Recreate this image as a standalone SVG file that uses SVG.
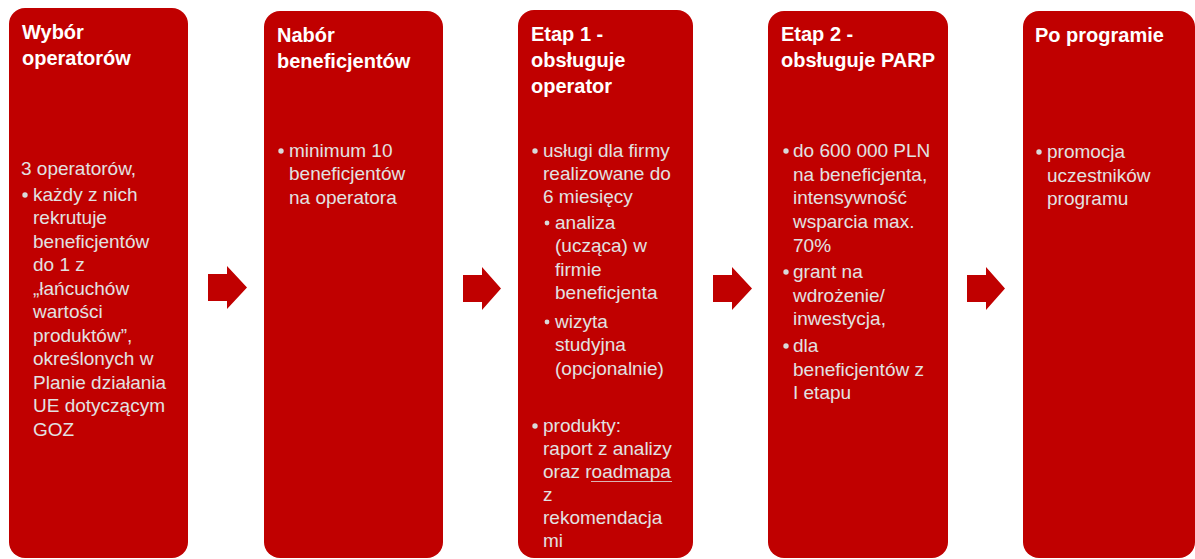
<svg xmlns="http://www.w3.org/2000/svg" width="1195" height="559" viewBox="0 0 1195 559">
<style>
.box{fill:#C00000}
.title{font-family:"Liberation Sans",Arial,sans-serif;font-weight:bold;font-size:20px;fill:#FFFFFF}
.body{font-family:"Liberation Sans",Arial,sans-serif;font-size:19px;fill:#E2E2E2}
.dot{fill:#D9D9D9}
.arrow{fill:#C00000}
.ul{stroke:#E2E2E2;stroke-width:0.8}
</style>
<rect width="1195" height="559" fill="#FFFFFF"/>
<g id="node-wybor">
<rect class="box" x="9" y="8" width="179" height="550" rx="16"/>
<text class="title" x="22" y="39">Wybór</text>
<text class="title" x="22" y="65">operatorów</text>
<text class="body" x="21" y="175">3 operatorów,</text>
<circle class="dot" cx="25" cy="195" r="2.7"/>
<text class="body" x="33"><tspan x="33" y="201">każdy z nich</tspan><tspan x="33" y="224">rekrutuje</tspan><tspan x="33" y="248">beneficjentów</tspan><tspan x="33" y="271">do 1 z</tspan><tspan x="33" y="295">„łańcuchów</tspan><tspan x="33" y="318">wartości</tspan><tspan x="33" y="342">produktów”,</tspan><tspan x="33" y="365">określonych w</tspan><tspan x="33" y="389">Planie działania</tspan><tspan x="33" y="412">UE dotyczącym</tspan><tspan x="33" y="436">GOZ</tspan></text>
</g>
<g id="node-nabor">
<rect class="box" x="264" y="11" width="179" height="547" rx="16"/>
<text class="title" x="277" y="42">Nabór</text>
<text class="title" x="277" y="68">beneficjentów</text>
<circle class="dot" cx="281" cy="151" r="2.7"/>
<text class="body"><tspan x="289" y="157">minimum 10</tspan><tspan x="289" y="180">beneficjentów</tspan><tspan x="289" y="204">na operatora</tspan></text>
</g>
<g id="node-etap1">
<rect class="box" x="518" y="10" width="175" height="548" rx="16"/>
<text class="title" x="531" y="41">Etap 1 -</text>
<text class="title" x="531" y="67">obsługuje</text>
<text class="title" x="531" y="93">operator</text>
<circle class="dot" cx="535" cy="151" r="2.7"/>
<text class="body"><tspan x="543" y="157">usługi dla firmy</tspan><tspan x="543" y="180">realizowane do</tspan><tspan x="543" y="203">6 miesięcy</tspan></text>
<circle class="dot" cx="547" cy="223" r="2.4"/>
<text class="body"><tspan x="555" y="229">analiza</tspan><tspan x="555" y="252">(ucząca) w</tspan><tspan x="555" y="276">firmie</tspan><tspan x="555" y="299">beneficjenta</tspan></text>
<circle class="dot" cx="547" cy="322" r="2.4"/>
<text class="body"><tspan x="555" y="328">wizyta</tspan><tspan x="555" y="351">studyjna</tspan><tspan x="555" y="375">(opcjonalnie)</tspan></text>
<circle class="dot" cx="535" cy="426" r="2.7"/>
<text class="body"><tspan x="543" y="432">produkty:</tspan><tspan x="543" y="455">raport z analizy</tspan><tspan x="543" y="478">oraz roadmapa</tspan><tspan x="543" y="501">z</tspan><tspan x="543" y="524">rekomendacja</tspan><tspan x="543" y="547">mi</tspan></text>
<line class="ul" x1="591" y1="481.5" x2="672" y2="481.5"/>
</g>
<g id="node-etap2">
<rect class="box" x="768" y="11" width="180" height="547" rx="16"/>
<text class="title" x="781" y="41">Etap 2 -</text>
<text class="title" x="781" y="67">obsługuje PARP</text>
<circle class="dot" cx="786" cy="151" r="2.7"/>
<text class="body"><tspan x="793" y="157">do 600 000 PLN</tspan><tspan x="793" y="181">na beneficjenta,</tspan><tspan x="793" y="204">intensywność</tspan><tspan x="793" y="228">wsparcia max.</tspan><tspan x="793" y="252">70%</tspan></text>
<circle class="dot" cx="786" cy="272" r="2.7"/>
<text class="body"><tspan x="793" y="278">grant na</tspan><tspan x="793" y="302">wdrożenie/</tspan><tspan x="793" y="325">inwestycja,</tspan></text>
<circle class="dot" cx="786" cy="346" r="2.7"/>
<text class="body"><tspan x="793" y="352">dla</tspan><tspan x="793" y="376">beneficjentów z</tspan><tspan x="793" y="399">I etapu</tspan></text>
</g>
<g id="node-po">
<rect class="box" x="1023" y="11" width="172" height="547" rx="16"/>
<text class="title" x="1035" y="42">Po programie</text>
<circle class="dot" cx="1039" cy="152" r="2.7"/>
<text class="body"><tspan x="1047" y="158">promocja</tspan><tspan x="1047" y="182">uczestników</tspan><tspan x="1047" y="205">programu</tspan></text>
</g>
<g id="connectors">
<polygon class="arrow" points="208,274 227,274 227,266 247,287.5 227,309 227,301 208,301"/>
<polygon class="arrow" points="463,275 482,275 482,267 501,288.5 482,310 482,302 463,302"/>
<polygon class="arrow" points="713,275 732,275 732,267 752,288.5 732,310 732,302 713,302"/>
<polygon class="arrow" points="967,275 986,275 986,267 1005,288.5 986,310 986,302 967,302"/>
</g>
</svg>
